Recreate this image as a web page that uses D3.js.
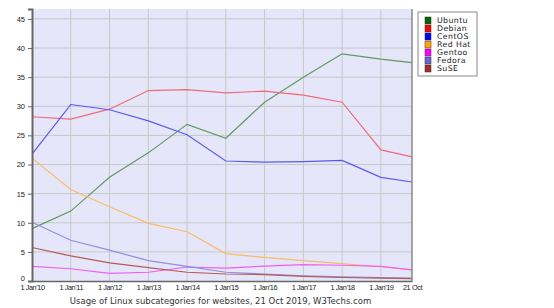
<!DOCTYPE html>
<html>
<head>
<meta charset="utf-8">
<script src="https://cdn.jsdelivr.net/npm/d3@7"></script>
<style>
  body { margin: 0; background: #fff; }
  svg { display: block; font-family: "DejaVu Sans", Verdana, sans-serif; }
  .grid line { stroke: #c8c8c8; stroke-width: 1; }
  .axis path, .axis line { stroke: #666; }
</style>
</head>
<body>
<div id="chart"></div>
<script>
// dates of the samples
var dates = ["2010-01-01","2011-01-01","2012-01-01","2013-01-01","2014-01-01","2015-01-01",
             "2016-01-01","2017-01-01","2018-01-01","2019-01-01","2019-10-21"];
var tickLabels = ["1 Jan'10","1 Jan'11","1 Jan'12","1 Jan'13","1 Jan'14","1 Jan'15",
                  "1 Jan'16","1 Jan'17","1 Jan'18","1 Jan'19","21 Oct"];
var names = ["Ubuntu","Debian","CentOS","Red Hat","Gentoo","Fedora","SuSE"];

// % of websites
var ubuntu = [9.0, 12.0, 17.8, 22.0, 26.9, 24.5, 30.7, 35.0, 39.0, 38.1, 37.5];
var debian = [28.2, 27.8, 29.5, 32.7, 32.85, 32.3, 32.6, 31.9, 30.7, 22.5, 21.3];
var centos = [21.8, 30.3, 29.4, 27.5, 25.1, 20.6, 20.4, 20.5, 20.7, 17.8, 17.0];
var redhat = [21.1, 15.7, 12.75, 9.9, 8.45, 4.7, 4.05, 3.5, 3.0, 2.45, 1.9];
var gentoo = [2.5, 2.1, 1.3, 1.5, 2.4, 2.2, 2.55, 2.8, 2.7, 2.5, 1.9];
var fedora = [10.1, 7.0, 5.3, 3.5, 2.5, 1.5, 1.2, 0.9, 0.7, 0.6, 0.5];
var suse = [5.75, 4.3, 3.1, 2.3, 1.5, 1.2, 1.1, 0.8, 0.6, 0.5, 0.4];
var yTicks = [0, 5, 10, 15, 20, 25, 30, 35, 40, 45];

var series = [ubuntu, debian, centos, redhat, gentoo, fedora, suse];
var lineColors = ["#5f9a62","#f06a78","#5a5af0","#f8bc66","#f05ef0","#9090e0","#b45a5a"];
var swatchColors = ["#006600","#ff0000","#0000ff","#ffa500","#ff00ff","#6666cc","#a52a2a"];

var W = 554, H = 308;
var margin = { top: 9, right: 142, bottom: 27, left: 32 };
var width = W - margin.left - margin.right,
    height = H - margin.top - margin.bottom;

var parse = d3.timeParse("%Y-%m-%d");
var xDates = dates.map(parse);

var svg = d3.select("#chart").append("svg")
  .attr("width", W).attr("height", H);

var g = svg.append("g")
  .attr("transform", "translate(" + margin.left + "," + margin.top + ")");

var xScale = d3.scaleTime()
  .domain([xDates[0], xDates[xDates.length - 1]])
  .range([0, width]);
var yScale = d3.scaleLinear()
  .domain([0, 46.7])
  .range([height, 0]);

// plot background
g.append("rect")
  .attr("width", width).attr("height", height)
  .attr("fill", "#e6e6fa");

// grid
var grid = g.append("g").attr("class", "grid");
grid.selectAll(".hg").data(yTicks.slice(1)).enter().append("line")
  .attr("x1", 0).attr("x2", width)
  .attr("y1", function(d){ return yScale(d); })
  .attr("y2", function(d){ return yScale(d); });
grid.selectAll(".vg").data(xDates.slice(1, -1)).enter().append("line")
  .attr("y1", 0).attr("y2", height)
  .attr("x1", function(d){ return xScale(d); })
  .attr("x2", function(d){ return xScale(d); });

// lines
var line = d3.line()
  .x(function(d, i){ return xScale(xDates[i]); })
  .y(function(d){ return yScale(d); });

g.selectAll(".line").data(series).enter().append("path")
  .attr("class", "line")
  .attr("fill", "none")
  .attr("stroke", function(d, i){ return lineColors[i]; })
  .attr("stroke-width", 1.2)
  .attr("d", line);

// right border
g.append("line")
  .attr("x1", width).attr("x2", width)
  .attr("y1", 0).attr("y2", height)
  .attr("stroke", "#888").attr("stroke-width", 1.5);

// y axis
var yAxis = g.append("g").attr("class", "axis")
  .call(d3.axisLeft(yScale).tickValues(yTicks).tickSize(4).tickPadding(3));
yAxis.select(".domain").attr("stroke", "#777").attr("stroke-width", 2);
yAxis.selectAll("text").attr("font-size", 7.5).attr("fill", "#222")
  .attr("font-family", "Liberation Sans, Arial, sans-serif");
// lift the 0 label so it clears the first date label
yAxis.selectAll(".tick text").filter(function(d){ return d === 0; }).attr("dy", "-0.05em");

// x axis
var xAxis = g.append("g").attr("class", "axis")
  .attr("transform", "translate(0," + height + ")")
  .call(d3.axisBottom(xScale).tickValues(xDates).tickSize(0).tickPadding(3.5)
    .tickFormat(function(d, i){ return tickLabels[i]; }));
xAxis.select(".domain").attr("stroke", "#777").attr("stroke-width", 1.5);
xAxis.selectAll("text").attr("font-size", 7.3).attr("fill", "#222")
  .attr("font-family", "Liberation Sans, Arial, sans-serif")
  .attr("letter-spacing", -0.4);

// title
svg.append("text")
  .attr("x", 220.5).attr("y", 303.5)
  .attr("text-anchor", "middle")
  .attr("font-size", 8.5).attr("fill", "#333")
  .text("Usage of Linux subcategories for websites, 21 Oct 2019, W3Techs.com");

// legend
var legend = svg.append("g").attr("transform", "translate(418,12)");
legend.append("rect")
  .attr("width", 59).attr("height", 64)
  .attr("fill", "#fff").attr("stroke", "#888").attr("stroke-width", 1);
var items = legend.selectAll(".item").data(names).enter().append("g")
  .attr("transform", function(d, i){ return "translate(7," + (5 + i * 8) + ")"; });
items.append("rect")
  .attr("width", 6).attr("height", 7)
  .attr("fill", function(d, i){ return swatchColors[i]; })
  .attr("stroke", "#333").attr("stroke-width", 0.5);
items.append("text")
  .attr("x", 12).attr("y", 6.3)
  .attr("font-size", 7.8).attr("fill", "#222")
  .attr("letter-spacing", 0.4)
  .text(function(d){ return d; });
</script>
</body>
</html>
